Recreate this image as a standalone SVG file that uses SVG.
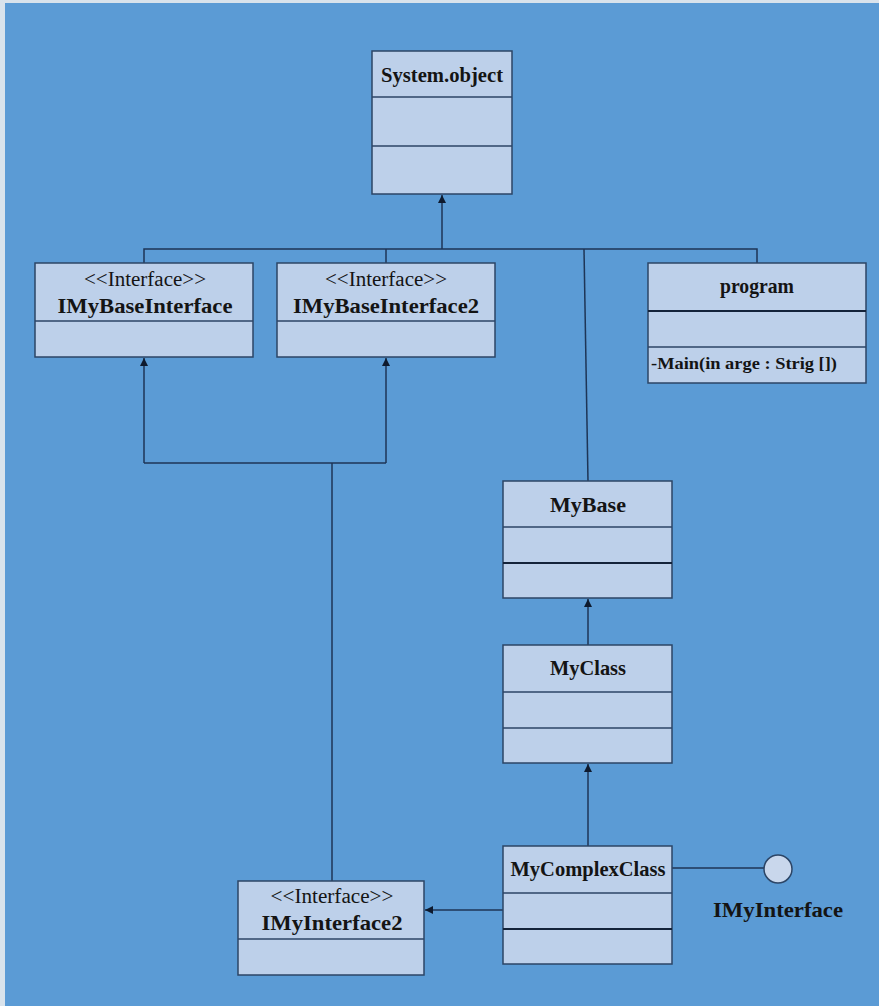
<svg xmlns="http://www.w3.org/2000/svg" width="879" height="1006" viewBox="0 0 879 1006">
<style>
.box{fill:#BDD0EA;stroke:#2C4566;stroke-width:1.5}
.div{stroke:#2C4566;stroke-width:1.5}
.divb{stroke:#14233A;stroke-width:2.2}
.ln{fill:none;stroke:#1E3556;stroke-width:1.5}
.t{font-family:'Liberation Serif','Times New Roman','DejaVu Serif',serif;font-weight:bold;font-size:21px;fill:#141414;text-anchor:middle}
.s{font-family:'Liberation Serif','Times New Roman','DejaVu Serif',serif;font-size:20px;fill:#141414;text-anchor:middle}
.m{font-family:'Liberation Serif','Times New Roman','DejaVu Serif',serif;font-weight:bold;font-size:16px;fill:#141414}
</style>
<defs>
<marker id="arr" viewBox="0 0 10 10" refX="10" refY="5" markerWidth="8" markerHeight="8" markerUnits="userSpaceOnUse" orient="auto">
<path d="M0,0 L10,5 L0,10 z" fill="#0E1A2E"/>
</marker>
</defs>
<rect x="0" y="0" width="879" height="1006" fill="#D9E3EC"/>
<rect x="5" y="3" width="874" height="1003" fill="#5B9BD5"/>

<g id="connectors">
<line class="ln" x1="442" y1="249" x2="442" y2="195" marker-end="url(#arr)"/>
<polyline class="ln" points="144,263 144,249 757,249 757,263"/>
<line class="ln" x1="386" y1="249" x2="386" y2="263"/>
<line class="ln" x1="584" y1="249" x2="588" y2="481"/>
<line class="ln" x1="588" y1="645" x2="588" y2="599" marker-end="url(#arr)"/>
<line class="ln" x1="588" y1="846" x2="588" y2="764" marker-end="url(#arr)"/>
<line class="ln" x1="144" y1="463" x2="144" y2="358" marker-end="url(#arr)"/>
<line class="ln" x1="386" y1="463" x2="386" y2="358" marker-end="url(#arr)"/>
<line class="ln" x1="144" y1="463" x2="386" y2="463"/>
<line class="ln" x1="332" y1="463" x2="332" y2="881"/>
<line class="ln" x1="503" y1="910" x2="425" y2="910" marker-end="url(#arr)"/>
<line class="ln" x1="672" y1="868" x2="764" y2="868"/>
</g>

<g id="system-object">
<rect class="box" x="372" y="51" width="140" height="143"/>
<line class="div" x1="372" y1="97" x2="512" y2="97"/>
<line class="div" x1="372" y1="146" x2="512" y2="146"/>
<text class="t" x="442" y="82" textLength="122" lengthAdjust="spacingAndGlyphs">System.object</text>
</g>

<g id="imybaseinterface">
<rect class="box" x="35" y="263" width="218" height="94"/>
<line class="div" x1="35" y1="321" x2="253" y2="321"/>
<text class="s" x="145" y="286" textLength="122" lengthAdjust="spacingAndGlyphs">&lt;&lt;Interface&gt;&gt;</text>
<text class="t" x="145" y="313" textLength="175" lengthAdjust="spacingAndGlyphs">IMyBaseInterface</text>
</g>

<g id="imybaseinterface2">
<rect class="box" x="277" y="263" width="218" height="94"/>
<line class="div" x1="277" y1="321" x2="495" y2="321"/>
<text class="s" x="386" y="286" textLength="122" lengthAdjust="spacingAndGlyphs">&lt;&lt;Interface&gt;&gt;</text>
<text class="t" x="386" y="313" textLength="186" lengthAdjust="spacingAndGlyphs">IMyBaseInterface2</text>
</g>

<g id="program">
<rect class="box" x="648" y="263" width="218" height="120"/>
<line class="divb" x1="648" y1="311" x2="866" y2="311"/>
<line class="div" x1="648" y1="347" x2="866" y2="347"/>
<text class="t" x="757" y="293" textLength="74" lengthAdjust="spacingAndGlyphs">program</text>
<text class="m" x="651" y="369" textLength="186" lengthAdjust="spacingAndGlyphs">-Main(in arge : Strig [])</text>
</g>

<g id="mybase">
<rect class="box" x="503" y="481" width="169" height="117"/>
<line class="div" x1="503" y1="527" x2="672" y2="527"/>
<line class="divb" x1="503" y1="563" x2="672" y2="563"/>
<text class="t" x="588" y="512" textLength="76" lengthAdjust="spacingAndGlyphs">MyBase</text>
</g>

<g id="myclass">
<rect class="box" x="503" y="645" width="169" height="118"/>
<line class="div" x1="503" y1="692" x2="672" y2="692"/>
<line class="div" x1="503" y1="728" x2="672" y2="728"/>
<text class="t" x="588" y="675" textLength="76" lengthAdjust="spacingAndGlyphs">MyClass</text>
</g>

<g id="mycomplexclass">
<rect class="box" x="503" y="846" width="169" height="118"/>
<line class="div" x1="503" y1="893" x2="672" y2="893"/>
<line class="divb" x1="503" y1="929" x2="672" y2="929"/>
<text class="t" x="588" y="876" textLength="155" lengthAdjust="spacingAndGlyphs">MyComplexClass</text>
</g>

<g id="imyinterface2">
<rect class="box" x="238" y="881" width="186" height="94"/>
<line class="div" x1="238" y1="939" x2="424" y2="939"/>
<text class="s" x="332" y="903" textLength="123" lengthAdjust="spacingAndGlyphs">&lt;&lt;Interface&gt;&gt;</text>
<text class="t" x="332" y="930" textLength="141" lengthAdjust="spacingAndGlyphs">IMyInterface2</text>
</g>

<g id="imyinterface">
<circle cx="778" cy="869" r="14" fill="#C9D7EC" stroke="#2C4566" stroke-width="1.5"/>
<text class="t" x="778" y="917" textLength="130" lengthAdjust="spacingAndGlyphs">IMyInterface</text>
</g>
</svg>
